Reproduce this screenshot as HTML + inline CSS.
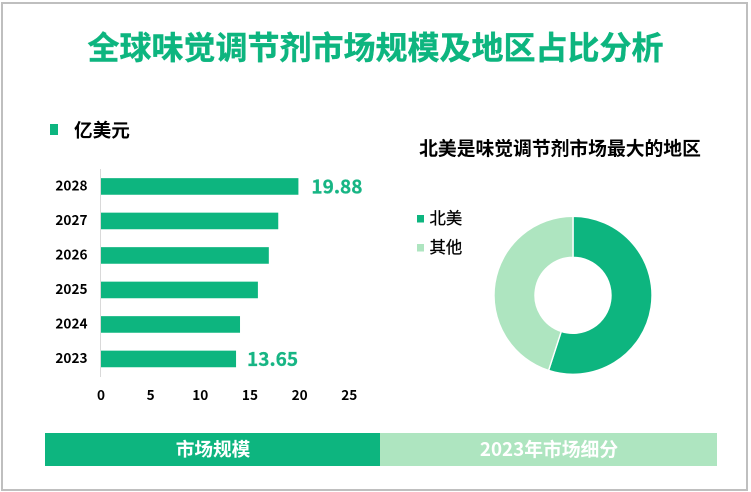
<!DOCTYPE html>
<html lang="zh">
<head>
<meta charset="utf-8">
<title>全球味觉调节剂市场规模及地区占比分析</title>
<style>
html,body{margin:0;padding:0;background:#fff;}
body{width:751px;height:492px;overflow:hidden;}
svg{display:block;}
text{font-family:"Liberation Sans","Noto Sans CJK SC",sans-serif;}
.num{font-family:"Noto Sans CJK SC","Liberation Sans",sans-serif;}
</style>
</head>
<body>
<svg id="chart" xmlns="http://www.w3.org/2000/svg" width="751" height="492" viewBox="0 0 751 492">
  <rect x="0" y="0" width="751" height="492" fill="#ffffff"/>
  <rect x="2" y="3" width="745" height="487" fill="none" stroke="#bfbfbf" stroke-width="2"/>
  <text x="375.5" y="59" text-anchor="middle" font-size="32" font-weight="700" fill="#0db57f" stroke="#0db57f" stroke-width="0.4">全球味觉调节剂市场规模及地区占比分析</text>

  <rect x="50" y="124" width="8" height="11" fill="#0db57f"/>
  <text x="74" y="137" font-size="18.6" font-weight="700" fill="#000000">亿美元</text>

  <g id="bar-chart"></g>

  <text x="560" y="155" text-anchor="middle" font-size="18.8" font-weight="700" fill="#000000">北美是味觉调节剂市场最大的地区</text>
  <g id="donut-chart"></g>
  <g id="donut-legend"></g>

  <rect x="45" y="433" width="335" height="33" fill="#0db57f"/>
  <text x="213" y="456" text-anchor="middle" font-size="18.67" font-weight="700" fill="#ffffff">市场规模</text>
  <rect x="380" y="433" width="337" height="33" fill="#aee5c0"/>
  <text x="549" y="456" text-anchor="middle" font-size="18.8" font-weight="700" fill="#ffffff" class="num">2023年市场细分</text>
</svg>
<script>
const years = ['2028', '2027', '2026', '2025', '2024', '2023'];
const marketSize = [19.88, 17.85, 16.9, 15.8, 14.0, 13.6];
const printedValues = ['19.88', '', '', '', '', '13.65'];
const xTicks = [0, 5, 10, 15, 20, 25];
const regions = ['北美', '其他'];
const regionShare = [55, 45];
const regionColors = ['#0db57f', '#aee5c0'];

const SVG_NS = 'http://www.w3.org/2000/svg';
const plot = { left: 101, unit: 9.93, top: 169.2, band: 34.5, barH: 16.6, bottom: 377 };
const xScale = function (v) { return plot.left + v * plot.unit; };
const yScale = function (i) { return plot.top + plot.band * i + plot.band / 2; };

function make(tag, attrs, parent, text) {
  const el = document.createElementNS(SVG_NS, tag);
  for (const k in attrs) el.setAttribute(k, attrs[k]);
  if (text !== undefined) el.textContent = text;
  parent.appendChild(el);
  return el;
}

const barGroup = document.getElementById('bar-chart');
const axisLine = make('line', { x1: 100.5, x2: 100.5, y1: 169, y2: plot.bottom, stroke: '#d9d9d9', 'stroke-width': 1 }, barGroup);



years.forEach(function (year, i) {
  const cy = yScale(i);
  const bar = make('rect', { x: xScale(0), y: cy - plot.barH / 2, width: xScale(marketSize[i]) - xScale(0), height: plot.barH, fill: '#0db57f' }, barGroup);
  
  

  const label = make('text', { x: 87.5, y: cy + 4.2, 'text-anchor': 'end', 'font-size': 13.6, 'font-weight': 700, fill: '#000000', class: 'num' }, barGroup, year);
  
  

  if (printedValues[i]) {
    const gap = i === 0 ? 13 : 11;
    const value = make('text', { x: xScale(marketSize[i]) + gap, y: cy + 7, 'font-size': 19, 'font-weight': 700, fill: '#17b584', stroke: '#17b584', 'stroke-width': 0.3, class: 'num' }, barGroup, printedValues[i]);
    
    
  }
});

xTicks.forEach(function (tick) {
  const label = make('text', { x: xScale(tick), y: 400, 'text-anchor': 'middle', 'font-size': 13.6, 'font-weight': 700, fill: '#000000', class: 'num' }, barGroup, String(tick));
  
  
});

const donutGroup = document.getElementById('donut-chart');
const donut = { cx: 573, cy: 295.3, r: 79, inner: 38 };
const total = regionShare.reduce(function (a, b) { return a + b; }, 0);
let startAngle = 0;
function polar(r, a) {
  return [donut.cx + r * Math.sin(a), donut.cy - r * Math.cos(a)];
}
regionShare.forEach(function (share, i) {
  const endAngle = startAngle + share / total * Math.PI * 2;
  const large = endAngle - startAngle > Math.PI ? 1 : 0;
  const a = polar(donut.r, startAngle);
  const b = polar(donut.r, endAngle);
  const c = polar(donut.inner, endAngle);
  const d = polar(donut.inner, startAngle);
  const path = 'M' + a[0] + ' ' + a[1] + 'A' + donut.r + ' ' + donut.r + ' 0 ' + large + ' 1 ' + b[0] + ' ' + b[1] +
    'L' + c[0] + ' ' + c[1] + 'A' + donut.inner + ' ' + donut.inner + ' 0 ' + large + ' 0 ' + d[0] + ' ' + d[1] + 'Z';
  const slice = make('path', { d: path, fill: regionColors[i], stroke: '#ffffff', 'stroke-width': 1.4 }, donutGroup);
  
  
  startAngle = endAngle;
});

const legendGroup = document.getElementById('donut-legend');
regions.forEach(function (name, i) {
  const y = 215 + i * 29;
  const swatch = make('rect', { x: 417, y: y, width: 7, height: 7.5, fill: regionColors[i] }, legendGroup);
  
  
  const label = make('text', { x: 429.5, y: y + 9, 'font-size': 16.4, fill: '#000000', stroke: '#000000', 'stroke-width': 0.25 }, legendGroup, name);
  
  
});
</script>
</body>
</html>
